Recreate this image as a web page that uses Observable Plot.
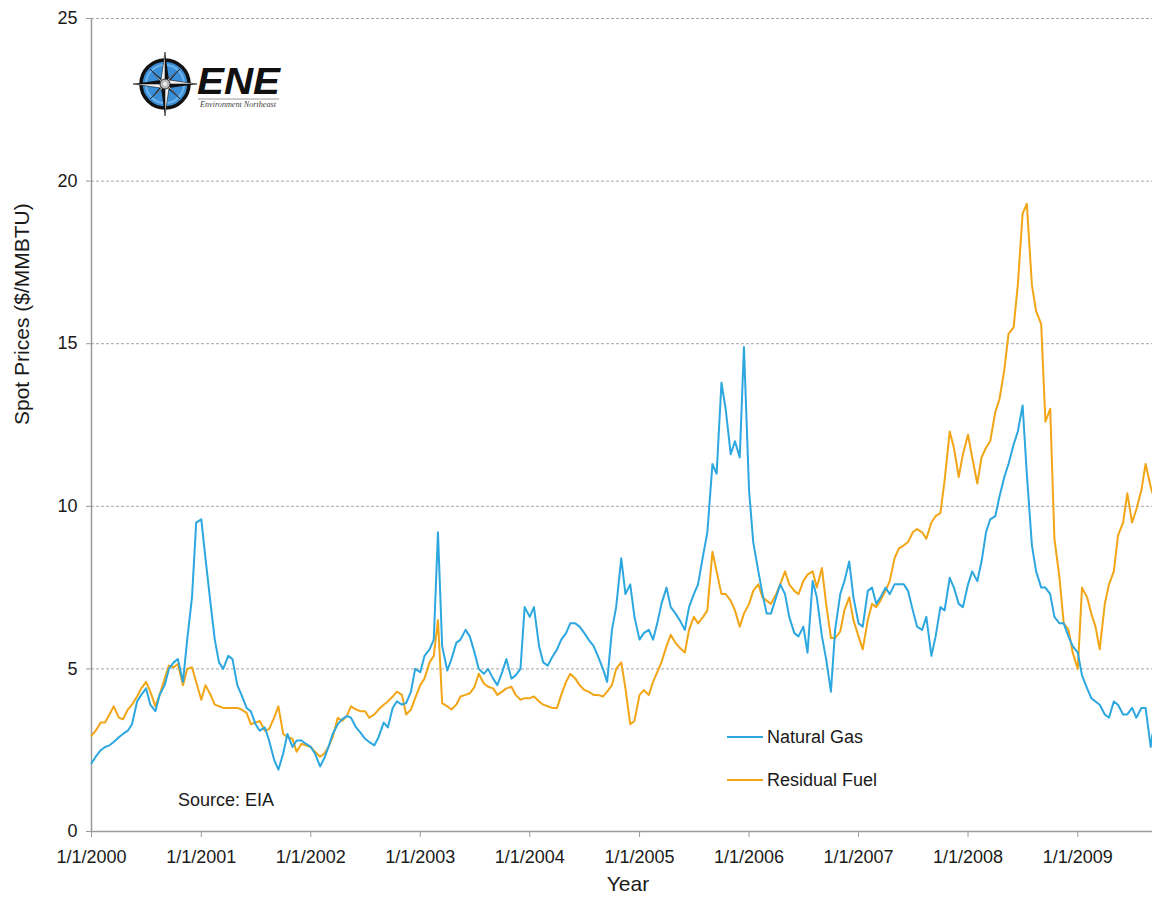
<!DOCTYPE html>
<html>
<head>
<meta charset="utf-8">
<script src="https://cdn.jsdelivr.net/npm/d3@7"></script>
<script src="https://cdn.jsdelivr.net/npm/@observablehq/plot@0.6"></script>
<style>
  html, body { margin: 0; padding: 0; background: #fff; }
  #wrap { position: relative; width: 1152px; height: 906px; font-family: "Liberation Sans", Arial, sans-serif; color: #1a1a1a; }
  #wrap svg.plot { position: absolute; left: 0; top: 0; }
  .legend { position: absolute; left: 727px; font-size: 18px; }
  .legend .row { position: absolute; left: 0; white-space: nowrap; display: flex; align-items: center; height: 20px; }
  .legend .sw { display: inline-block; width: 36px; height: 2px; margin-right: 4px; }
  .source { position: absolute; left: 178px; top: 790px; font-size: 18px; white-space: nowrap; }
  .logo { position: absolute; left: 130px; top: 46px; }
</style>
</head>
<body>
<div id="wrap"></div>
<script>
// ---- Data ----
const seriesNames = ["Natural Gas", "Residual Fuel"];
const seriesColors = ["#2ca7e0", "#f2a516"];

// semi-monthly sampling: 1st and 15th of every month, Jan 2000 .. Sep 2009
const dates = [];
for (let y = 2000; y <= 2009; y++) {
  for (let m = 0; m < 12; m++) {
    for (const d of [1, 15]) {
      const t = new Date(Date.UTC(y, m, d));
      if (t <= new Date(Date.UTC(2009, 8, 1))) dates.push(t);
    }
  }
}
dates.push(new Date(Date.UTC(2009, 8, 7)));

const gasPrices = [
  // 2000
  2.1, 2.3, 2.5, 2.6, 2.65, 2.75, 2.9, 3.0, 3.1, 3.3, 4.0, 4.2, 4.4, 3.9, 3.7, 4.2, 4.5, 5.0, 5.2, 5.3, 4.6, 5.9, 7.2, 9.5,
  // 2001
  9.6, 8.4, 7.0, 5.9, 5.2, 5.0, 5.4, 5.3, 4.5, 4.2, 3.8, 3.7, 3.3, 3.1, 3.2, 2.8, 2.2, 1.9, 2.4, 3.0, 2.6, 2.8, 2.8, 2.7,
  // 2002
  2.6, 2.4, 2.0, 2.25, 2.6, 3.0, 3.3, 3.45, 3.55, 3.5, 3.2, 3.05, 2.85, 2.75, 2.65, 2.9, 3.35, 3.2, 3.8, 4.0, 3.9, 3.95, 4.3, 5.0,
  // 2003
  4.9, 5.4, 5.6, 5.9, 9.2, 5.7, 4.95, 5.3, 5.8, 5.9, 6.2, 6.0, 5.5, 5.0, 4.85, 5.0, 4.7, 4.5, 4.9, 5.3, 4.7, 4.8, 5.0, 6.9,
  // 2004
  6.6, 6.9, 5.7, 5.2, 5.1, 5.35, 5.6, 5.9, 6.1, 6.4, 6.4, 6.3, 6.1, 5.9, 5.7, 5.4, 5.0, 4.6, 6.2, 6.9, 8.4, 7.3, 7.6, 6.6,
  // 2005
  5.9, 6.1, 6.2, 5.9, 6.4, 7.0, 7.5, 6.9, 6.7, 6.5, 6.2, 6.9, 7.3, 7.6, 8.5, 9.2, 11.3, 11.0, 13.8, 13.0, 11.6, 12.0, 11.5, 14.9,
  // 2006
  10.5, 8.9, 8.0, 7.3, 6.7, 6.7, 7.2, 7.6, 7.3, 6.6, 6.1, 6.0, 6.3, 5.5, 7.7, 7.2, 6.0, 5.3, 4.3, 6.2, 7.3, 7.7, 8.3, 7.2,
  // 2007
  6.4, 6.3, 7.4, 7.5, 7.0, 7.2, 7.5, 7.3, 7.6, 7.6, 7.6, 7.4, 6.8, 6.3, 6.2, 6.6, 5.4, 6.0, 6.9, 6.8, 7.8, 7.5, 7.0, 6.9,
  // 2008
  7.6, 8.0, 7.7, 8.3, 9.2, 9.6, 9.7, 10.3, 10.9, 11.3, 11.9, 12.3, 13.1, 11.0, 8.8, 8.0, 7.5, 7.5, 7.3, 6.6, 6.4, 6.4, 6.0, 5.7,
  // 2009
  5.5, 4.8, 4.4, 4.1, 4.0, 3.9, 3.6, 3.5, 4.0, 3.9, 3.6, 3.6, 3.8, 3.5, 3.8, 3.8, 2.6, 3.0
];

const fuelPrices = [
  // 2000
  2.95, 3.1, 3.35, 3.35, 3.6, 3.85, 3.5, 3.45, 3.75, 3.9, 4.15, 4.4, 4.6, 4.3, 3.85, 4.2, 4.7, 5.1, 5.05, 5.15, 4.5, 5.0, 5.05, 4.6,
  // 2001
  4.05, 4.5, 4.2, 3.9, 3.85, 3.8, 3.8, 3.8, 3.8, 3.75, 3.65, 3.3, 3.35, 3.4, 3.1, 3.15, 3.5, 3.85, 3.0, 2.9, 2.85, 2.45, 2.7, 2.65,
  // 2002
  2.6, 2.45, 2.3, 2.4, 2.6, 2.9, 3.5, 3.4, 3.55, 3.85, 3.75, 3.7, 3.7, 3.5, 3.6, 3.75, 3.9, 4.0, 4.15, 4.3, 4.2, 3.6, 3.75, 4.1,
  // 2003
  4.5, 4.7, 5.2, 5.4, 6.5, 3.95, 3.85, 3.75, 3.9, 4.15, 4.2, 4.25, 4.45, 4.85, 4.55, 4.45, 4.4, 4.2, 4.3, 4.4, 4.45, 4.2, 4.05, 4.1,
  // 2004
  4.1, 4.15, 4.0, 3.9, 3.85, 3.8, 3.8, 4.2, 4.6, 4.85, 4.7, 4.5, 4.35, 4.3, 4.2, 4.2, 4.15, 4.3, 4.5, 5.0, 5.2, 4.4, 3.3, 3.4,
  // 2005
  4.2, 4.35, 4.2, 4.6, 4.9, 5.2, 5.7, 6.05, 5.8, 5.65, 5.5, 6.2, 6.6, 6.4, 6.6, 6.8, 8.6, 8.0, 7.3, 7.3, 7.1, 6.8, 6.3, 6.7,
  // 2006
  7.0, 7.4, 7.6, 7.2, 7.1, 7.0, 7.3, 7.6, 8.0, 7.6, 7.4, 7.3, 7.7, 7.9, 8.0, 7.5, 8.1, 7.0, 5.95, 5.95, 6.15, 6.8, 7.2, 6.5,
  // 2007
  6.0, 5.6, 6.5, 7.0, 6.9, 7.1, 7.4, 7.7, 8.4, 8.7, 8.8, 8.9, 9.2, 9.3, 9.2, 9.0, 9.5, 9.7, 9.8, 10.8, 12.3, 11.8, 10.9, 11.6,
  // 2008
  12.2, 11.5, 10.7, 11.5, 11.8, 12.0, 12.9, 13.3, 14.2, 15.3, 15.5, 16.8, 19.0, 19.3, 16.8, 16.0, 15.6, 12.6, 13.0, 9.0, 7.8, 6.4, 6.2, 5.5,
  // 2009
  5.0, 7.5, 7.2, 6.7, 6.3, 5.6, 7.0, 7.6, 8.0, 9.1, 9.5, 10.4, 9.5, 9.9, 10.5, 11.3, 10.6, 10.4
];

const yTicks = [0, 5, 10, 15, 20, 25];
const yGrid = [5, 10, 15, 20, 25];
const xTickYears = [2000, 2001, 2002, 2003, 2004, 2005, 2006, 2007, 2008, 2009];
const xStart = new Date(Date.UTC(2000, 0, 1));
const xEnd = new Date(Date.UTC(2009, 8, 7));
const yLabel = "Spot Prices ($/MMBTU)";
const xLabel = "Year";
const sourceText = "Source: EIA";

// ---- Build table for Plot ----
const gasRows = dates.map((d, i) => ({date: d, price: gasPrices[i], series: seriesNames[0]}));
const fuelRows = dates.map((d, i) => ({date: d, price: fuelPrices[i], series: seriesNames[1]}));
const xTicks = xTickYears.map(y => new Date(Date.UTC(y, 0, 1)));

const chart = Plot.plot({
  width: 1152,
  height: 906,
  marginLeft: 91,
  marginRight: 0,
  marginTop: 18,
  marginBottom: 75,
  style: {fontFamily: "Liberation Sans, Arial, sans-serif", fontSize: "18px", color: "#1a1a1a", background: "#fff"},
  x: {type: "utc", domain: [xStart, xEnd]},
  y: {domain: [0, 25]},
  marks: [
    Plot.gridY(yGrid, {stroke: "#a6a6a6", strokeOpacity: 1, strokeDasharray: "3,2", strokeWidth: 1}),
    Plot.ruleX([xStart], {stroke: "#9a9a9a", strokeWidth: 1.5}),
    Plot.ruleY([0], {stroke: "#9a9a9a", strokeWidth: 1.5}),
    Plot.axisY({ticks: yTicks, tickSize: 5, tickPadding: 9, label: null, stroke: "#9a9a9a", fill: "#1a1a1a"}),
    Plot.axisX({ticks: xTicks, tickSize: 6, tickPadding: 13, label: null, stroke: "#9a9a9a", fill: "#1a1a1a",
      tickFormat: d => `1/1/${d.getUTCFullYear()}`}),
    Plot.line(fuelRows, {x: "date", y: "price", stroke: seriesColors[1], strokeWidth: 2}),
    Plot.line(gasRows, {x: "date", y: "price", stroke: seriesColors[0], strokeWidth: 2}),
    Plot.text([yLabel], {frameAnchor: "left", dx: -69, rotate: -90, text: d => d, fontSize: 21, fill: "#1a1a1a"}),
    Plot.text([xLabel], {frameAnchor: "bottom", dy: 59, dx: 6, text: d => d, fontSize: 21, fill: "#1a1a1a"})
  ]
});
chart.classList.add("plot");
const wrap = document.getElementById("wrap");
wrap.appendChild(chart);

// Legend
const legend = document.createElement("div");
legend.className = "legend";
legend.style.top = "0px";
[727, 770].forEach((top, i) => {
  const row = document.createElement("div");
  row.className = "row";
  row.style.top = top + "px";
  const sw = document.createElement("span");
  sw.className = "sw";
  sw.style.background = seriesColors[i];
  row.appendChild(sw);
  const t = document.createElement("span");
  t.textContent = seriesNames[i];
  row.appendChild(t);
  legend.appendChild(row);
});
wrap.appendChild(legend);

// Source note
const src = document.createElement("div");
src.className = "source";
src.textContent = sourceText;
wrap.appendChild(src);

// Logo
const logo = document.createElement("div");
logo.className = "logo";
logo.innerHTML = `
<svg width="160" height="80" viewBox="0 0 160 80">
  <rect x="0" y="0" width="160" height="80" fill="#fff"/>
  <g transform="translate(35,38)">
    <circle r="24" fill="#3a8fd8" stroke="#111" stroke-width="3.5"/>
    <circle r="19" fill="none" stroke="#6fb3ea" stroke-width="2"/>
    <g fill="#111">
      <polygon points="0,-32 4,-4 0,0"/>
      <polygon points="0,32 -4,4 0,0"/>
      <polygon points="32,0 4,4 0,0"/>
      <polygon points="-32,0 -4,-4 0,0"/>
      <polygon points="15,-15 3,-1 0,0"/>
      <polygon points="-15,15 -3,1 0,0"/>
      <polygon points="15,15 1,3 0,0"/>
      <polygon points="-15,-15 -1,-3 0,0"/>
    </g>
    <g fill="#f4f4f4" stroke="#111" stroke-width="0.6">
      <polygon points="0,-32 -4,-4 0,0"/>
      <polygon points="0,32 4,4 0,0"/>
      <polygon points="32,0 4,-4 0,0"/>
      <polygon points="-32,0 -4,4 0,0"/>
      <polygon points="15,-15 1,-3 0,0"/>
      <polygon points="-15,15 -1,3 0,0"/>
      <polygon points="15,15 3,1 0,0"/>
      <polygon points="-15,-15 -3,-1 0,0"/>
    </g>
    <circle r="5" fill="#bbb" stroke="#333" stroke-width="1"/>
    <circle r="2" fill="#eee"/>
  </g>
  <text x="67" y="48" font-family="Liberation Sans, Arial, sans-serif" font-weight="bold" font-style="italic" font-size="36" fill="#111" textLength="83" lengthAdjust="spacingAndGlyphs">ENE</text>
  <line x1="68" y1="53" x2="149" y2="53" stroke="#999" stroke-width="1"/>
  <text x="70" y="61" font-family="Liberation Serif, serif" font-style="italic" font-size="8" fill="#444" textLength="76" lengthAdjust="spacingAndGlyphs">Environment Northeast</text>
</svg>`;
wrap.appendChild(logo);
</script>
</body>
</html>
